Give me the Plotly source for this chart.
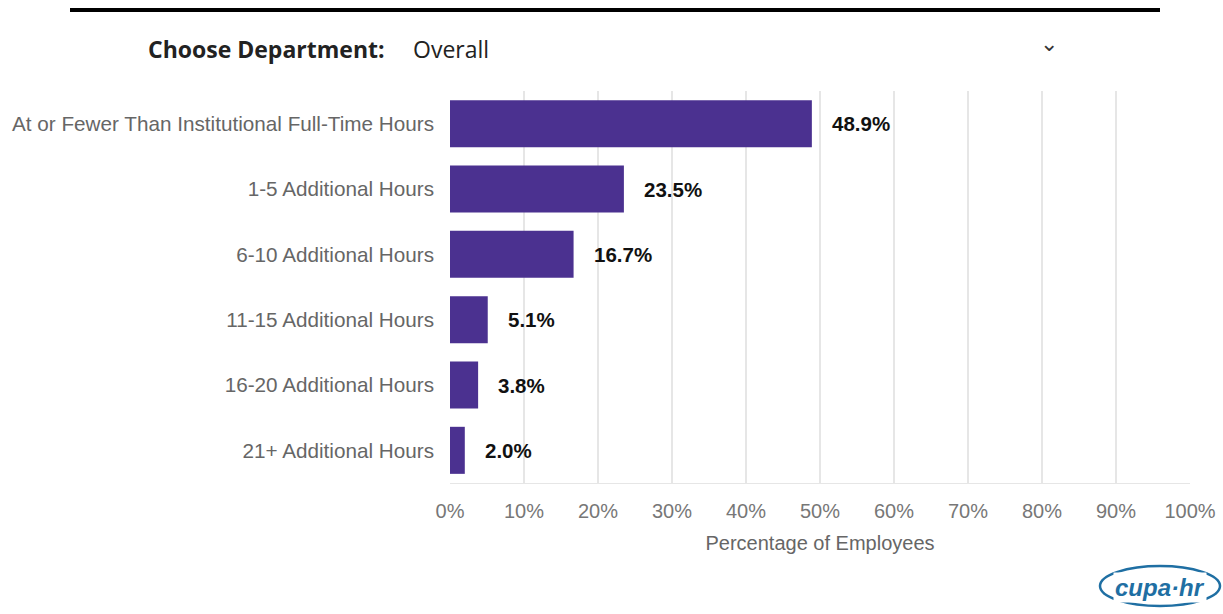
import plotly.graph_objects as go

# Weekly hours worked beyond the institutional full-time schedule
categories = [
    "At or Fewer Than Institutional Full-Time Hours",
    "1-5 Additional Hours",
    "6-10 Additional Hours",
    "11-15 Additional Hours",
    "16-20 Additional Hours",
    "21+ Additional Hours",
]
percentages = [48.9, 23.5, 16.7, 5.1, 3.8, 2.0]
tick_values = [0, 10, 20, 30, 40, 50, 60, 70, 80, 90, 100]
tick_labels = [f"{v}%" for v in tick_values]

BAR_COLOR = "#4b3190"
LABEL_FONT = "Liberation Sans, Arial, sans-serif"

fig = go.Figure(
    go.Bar(
        x=percentages,
        y=categories,
        orientation="h",
        marker=dict(color=BAR_COLOR, line=dict(width=0)),
        width=0.72,
        hoverinfo="skip",
    )
)

# Bold value labels to the right of each bar
for cat, val in zip(categories, percentages):
    fig.add_annotation(
        x=val, y=cat, text=f"<b>{val:.1f}%</b>", showarrow=False,
        xanchor="left", xshift=18, yshift=0,
        font=dict(family=LABEL_FONT, size=20.5, color="#111111"),
    )

# Header bar with department selector
fig.add_shape(type="line", xref="paper", yref="paper",
              x0=(70 - 450) / 740, x1=(1160 - 450) / 740,
              y0=1 + (91 - 10) / 392, y1=1 + (91 - 10) / 392,
              line=dict(color="#000000", width=4))
fig.add_annotation(xref="paper", yref="paper",
                   x=(146 - 450) / 740, y=1 + (91 - 49) / 392,
                   text="<b>Choose Department:</b>", showarrow=False,
                   xanchor="left", yanchor="middle",
                   font=dict(family="Open Sans, sans-serif", size=23, color="#222222"))
fig.add_annotation(xref="paper", yref="paper",
                   x=(411 - 450) / 740, y=1 + (91 - 49) / 392,
                   text="Overall", showarrow=False,
                   xanchor="left", yanchor="middle",
                   font=dict(family="Open Sans, sans-serif", size=23, color="#222222"))
fig.add_annotation(xref="paper", yref="paper",
                   x=(1049 - 450) / 740, y=1 + (91 - 44) / 392,
                   text="⌄", showarrow=False,
                   xanchor="center", yanchor="middle",
                   font=dict(family="DejaVu Sans, sans-serif", size=22, color="#333333"))

# Logo mark in the lower right corner
fig.add_shape(type="circle", xref="paper", yref="paper",
              x0=(1100 - 450) / 740, x1=(1220 - 450) / 740,
              y0=-(606 - 483) / 392, y1=-(566 - 483) / 392,
              line=dict(color="#1f6fa3", width=2.5))
fig.add_annotation(xref="paper", yref="paper",
                   x=(1160 - 450) / 740, y=-(587 - 483) / 392,
                   text="<b><i>cupa·hr</i></b>", showarrow=False,
                   xanchor="center", yanchor="middle",
                   bgcolor="white",
                   font=dict(family="Liberation Sans, Arial, sans-serif", size=24, color="#1f6fa3"))

fig.update_layout(
    width=1223, height=614,
    margin=dict(l=450, r=33, t=91, b=131, autoexpand=False),
    paper_bgcolor="white", plot_bgcolor="white",
    showlegend=False,
    bargap=0.28,
    font=dict(family=LABEL_FONT, size=20, color="#666666"),
    xaxis=dict(
        range=[0, 100], tickvals=tick_values, ticktext=tick_labels,
        showgrid=True, gridcolor="#e6e6e6", gridwidth=1.5,
        zeroline=False, showline=True, linecolor="#e6e6e6",
        ticks="", ticklabelstandoff=10, automargin=False,
        tickfont=dict(size=20, color="#777777"),
        title=dict(text="Percentage of Employees", standoff=14,
                   font=dict(size=20, color="#666666")),
        fixedrange=True,
    ),
    yaxis=dict(
        autorange="reversed", ticks="", showgrid=False,
        showline=False, ticklabelstandoff=15, automargin=False,
        tickfont=dict(size=20.7, color="#666666"),
        fixedrange=True,
    ),
)

fig.write_html("out.html")
